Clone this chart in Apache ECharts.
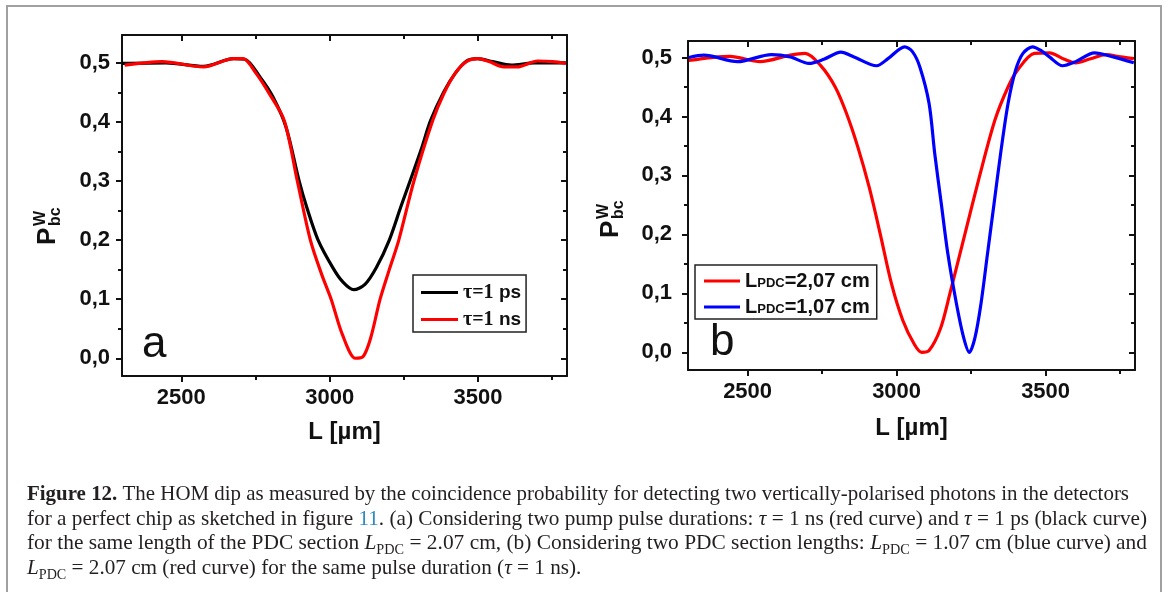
<!DOCTYPE html>
<html><head><meta charset="utf-8">
<script src="https://cdn.jsdelivr.net/npm/echarts@6/dist/echarts.min.js"></script>
<style>html,body{margin:0;padding:0;background:#fff}#c{width:1168px;height:592px}</style>
</head><body><div id="c"></div>
<script>
// ---------- data ----------
const xMajor = [2500, 3000, 3500];
const xMinor = [2750, 3250, 3750];
const yMajor = [0, 0.1, 0.2, 0.3, 0.4, 0.5];
const yMinor = [0.05, 0.15, 0.25, 0.35, 0.45];

// panel a, tau = 1 ps (black)
const aBlackL = [2300,2448,2575,2676,2714,2765,2809,2853,2897,2923,2961,3011,3043,3081,3119,3157,3201,3239,3271,3309,3340,3385,3423,3461,3499,3549,3612,3689,3796];
const aBlackP = [0.499,0.500,0.494,0.507,0.506,0.476,0.442,0.391,0.300,0.255,0.200,0.153,0.130,0.116,0.125,0.153,0.200,0.255,0.300,0.354,0.402,0.451,0.482,0.503,0.507,0.502,0.496,0.500,0.500];
// panel a, tau = 1 ns (red)
const aRedL = [2309,2435,2575,2676,2708,2752,2796,2847,2891,2935,2973,3005,3043,3087,3113,3138,3170,3201,3233,3284,3347,3385,3423,3461,3499,3537,3587,3632,3701,3752,3796];
const aRedP = [0.496,0.502,0.493,0.507,0.507,0.482,0.448,0.402,0.300,0.200,0.142,0.100,0.040,0.000,0.003,0.034,0.100,0.150,0.200,0.300,0.402,0.448,0.482,0.502,0.507,0.502,0.493,0.493,0.503,0.502,0.499];
// panel b, L_PDC = 2.07 cm (red)
const bRedL = [2303,2441,2542,2643,2693,2744,2794,2832,2870,2908,2945,2983,3021,3059,3084,3109,3147,3179,3229,3279,3330,3374,3405,3462,3513,3563,3601,3651,3702,3752,3796];
const bRedP = [0.495,0.502,0.493,0.504,0.507,0.487,0.450,0.405,0.348,0.280,0.201,0.116,0.054,0.014,0.000,0.003,0.040,0.100,0.200,0.300,0.394,0.450,0.478,0.507,0.508,0.497,0.491,0.498,0.505,0.501,0.498];
// panel b, L_PDC = 1.07 cm (blue)
const bBlueL = [2303,2353,2466,2580,2643,2706,2756,2813,2857,2933,2971,3027,3053,3078,3109,3128,3150,3172,3201,3225,3244,3263,3283,3305,3327,3349,3374,3399,3424,3456,3487,3513,3557,3601,3664,3727,3796];
const bBlueP = [0.500,0.504,0.493,0.505,0.501,0.490,0.497,0.509,0.501,0.486,0.498,0.518,0.510,0.484,0.422,0.337,0.252,0.167,0.082,0.025,0.000,0.025,0.082,0.167,0.252,0.337,0.422,0.478,0.507,0.518,0.511,0.501,0.486,0.493,0.508,0.501,0.491];

// caption text
const capLine1 = [{t:'Figure 12.', b:1}, {t:' The HOM dip as measured by the coincidence probability for detecting two vertically-polarised photons in the detectors'}];
const capLine2 = [{t:'for a perfect chip as sketched in figure '}, {t:'11', c:'#2b8bc6'}, {t:'. (a) Considering two pump pulse durations: '}, {t:'\u03c4', i:1}, {t:' = 1 ns (red curve) and '}, {t:'\u03c4', i:1}, {t:' = 1 ps (black curve)'}];
const capLine3 = [{t:'for the same length of the PDC section '}, {t:'L', i:1}, {t:'PDC', s:1}, {t:' = 2.07 cm, (b) Considering two PDC section lengths: '}, {t:'L', i:1}, {t:'PDC', s:1}, {t:' = 1.07 cm (blue curve) and'}];
const capLine4 = [{t:'L', i:1}, {t:'PDC', s:1}, {t:' = 2.07 cm (red curve) for the same pulse duration ('}, {t:'\u03c4', i:1}, {t:' = 1 ns).'}];

// ---------- helpers ----------
const zip = (a, b) => a.map((v, k) => [v, b[k]]);
const INK = '#111';
const SANS = 'Liberation Sans';
const SERIF = 'Liberation Serif';
const fmtY = v => v.toFixed(1).replace('.', ',');
const fmtX = v => String(v);
const LAB = 22;

function xAxes(g, nameGap) {
  const base = {gridIndex: g, type: 'value', min: 2300, max: 3800, splitLine: {show: false}};
  const line = {show: true, onZero: false, lineStyle: {color: INK, width: 2}};
  return [
    Object.assign({}, base, {position: 'bottom', axisLine: line,
      axisTick: {show: true, customValues: xMajor, length: 6, lineStyle: {color: INK, width: 2}},
      axisLabel: {show: true, customValues: xMajor, formatter: fmtX, margin: 11, fontFamily: SANS, fontWeight: 'bold', fontSize: LAB, color: INK},
      name: 'L [\u00b5m]', nameLocation: 'middle', nameGap: nameGap,
      nameTextStyle: {fontFamily: SANS, fontWeight: 'bold', fontSize: 24, color: INK}}),
    Object.assign({}, base, {position: 'bottom', axisLine: {show: false, onZero: false},
      axisTick: {show: true, customValues: xMinor, length: 4, lineStyle: {color: INK, width: 2}},
      axisLabel: {show: false}}),
    Object.assign({}, base, {position: 'top', axisLine: line,
      axisTick: {show: true, inside: true, customValues: xMajor, length: 6, lineStyle: {color: INK, width: 2}},
      axisLabel: {show: false}}),
    Object.assign({}, base, {position: 'top', axisLine: {show: false, onZero: false},
      axisTick: {show: true, inside: true, customValues: xMinor, length: 4, lineStyle: {color: INK, width: 2}},
      axisLabel: {show: false}})
  ];
}
function yAxes(g, min, max, margin) {
  const base = {gridIndex: g, type: 'value', min: min, max: max, splitLine: {show: false}};
  const line = {show: true, onZero: false, lineStyle: {color: INK, width: 2}};
  return [
    Object.assign({}, base, {position: 'left', axisLine: line,
      axisTick: {show: true, customValues: yMajor, length: 6, lineStyle: {color: INK, width: 2}},
      axisLabel: {show: true, customValues: yMajor, margin: margin, formatter: fmtY, fontFamily: SANS, fontWeight: 'bold', fontSize: LAB, color: INK}}),
    Object.assign({}, base, {position: 'left', axisLine: {show: false, onZero: false},
      axisTick: {show: true, customValues: yMinor, length: 4, lineStyle: {color: INK, width: 2}},
      axisLabel: {show: false}}),
    Object.assign({}, base, {position: 'right', axisLine: line,
      axisTick: {show: true, inside: true, customValues: yMajor, length: 6, lineStyle: {color: INK, width: 2}},
      axisLabel: {show: false}}),
    Object.assign({}, base, {position: 'right', axisLine: {show: false, onZero: false},
      axisTick: {show: true, inside: true, customValues: yMinor, length: 4, lineStyle: {color: INK, width: 2}},
      axisLabel: {show: false}})
  ];
}
function lineSeries(name, xi, yi, data, color) {
  return {name: name, type: 'line', xAxisIndex: xi, yAxisIndex: yi, data: data,
    symbol: 'none', showSymbol: false, smooth: 0.3, clip: true,
    lineStyle: {color: color, width: 3.2}, itemStyle: {color: color}};
}

// caption built from measured text pieces
const CAP = 21, CAPS = 14;
const mctx = document.createElement('canvas').getContext('2d');
function segFont(s) { return (s.i ? 'italic ' : '') + (s.b ? 'bold ' : '') + (s.s ? CAPS : CAP) + 'px "' + SERIF + '"'; }
function captionLine(segs, x0, baseline, target, fixedScale) {
  const widths = segs.map(s => { mctx.font = segFont(s); return mctx.measureText(s.t).width; });
  const total = widths.reduce((a, b) => a + b, 0);
  const k = fixedScale || (target / total);
  let cx = x0;
  const els = segs.map((s, n) => {
    const fs = s.s ? CAPS : CAP;
    const el = {type: 'text', x: cx, y: baseline + (s.s ? 4 : 0) - 0.3375 * fs, scaleX: k,
      style: {text: s.t, fontFamily: SERIF, fontSize: fs, fontStyle: s.i ? 'italic' : 'normal',
        fontWeight: s.b ? 'bold' : 'normal', fill: s.c || '#231f20', align: 'left', verticalAlign: 'middle'}};
    cx += widths[n] * k;
    return el;
  });
  return {els: els, k: k};
}
const c1 = captionLine(capLine1, 27, 502, 1102);
const c2 = captionLine(capLine2, 27, 527, 1120);
const c3 = captionLine(capLine3, 27, 551, 1120);
const c4 = captionLine(capLine4, 27, 576, 0, (c1.k + c2.k + c3.k) / 3);

function yTitle(xBase, yStart) {
  const st = (t, fs) => ({text: t, fontFamily: SANS, fontWeight: 'bold', fontSize: fs, fill: INK, align: 'left', verticalAlign: 'middle'});
  return [
    {type: 'text', x: xBase - 0.3465 * 26, y: yStart, rotation: Math.PI / 2, style: st('P', 26)},
    {type: 'text', x: xBase - 11 - 0.3465 * 16, y: yStart - 19, rotation: Math.PI / 2, style: st('W', 16)},
    {type: 'text', x: xBase + 4 - 0.3465 * 16, y: yStart - 19, rotation: Math.PI / 2, style: st('bc', 16)}
  ];
}

const option = {
  animation: false,
  backgroundColor: '#fff',
  grid: [
    {left: 122, top: 35, width: 445, height: 341},
    {left: 688, top: 41, width: 447, height: 329}
  ],
  xAxis: xAxes(0, 44).concat(xAxes(1, 46)),
  yAxis: yAxes(0, -0.03, 0.547, 12).concat(yAxes(1, -0.03, 0.528, 16)),
  legend: [
    {orient: 'vertical', left: 413, top: 275, data: ['a_ps', 'a_ns'], icon: 'rect', itemWidth: 37, itemHeight: 3,
      itemGap: 6, padding: [7, 5, 2, 8], borderColor: '#222', borderWidth: 1.5, backgroundColor: '#fff',
      formatter: n => n === 'a_ps' ? '{t|\u03c4=1} ps' : '{t|\u03c4=1} ns',
      textStyle: {fontFamily: SANS, fontWeight: 'bold', fontSize: 19, lineHeight: 21, color: INK,
        rich: {t: {fontFamily: SERIF, fontWeight: 'bold', fontSize: 20, lineHeight: 21, color: INK}}}},
    {orient: 'vertical', left: 695, top: 265, data: ['b_207', 'b_107'], icon: 'rect', itemWidth: 36, itemHeight: 3,
      itemGap: 6, padding: [6, 7, 2, 9], borderColor: '#222', borderWidth: 1.5, backgroundColor: '#fff',
      formatter: n => n === 'b_207' ? 'L{s|PDC}=2,07 cm' : 'L{s|PDC}=1,07 cm',
      textStyle: {fontFamily: SANS, fontWeight: 'bold', fontSize: 20, lineHeight: 19, color: INK,
        rich: {s: {fontFamily: SANS, fontWeight: 'bold', fontSize: 13, lineHeight: 19, color: INK, padding: [4, 0, 0, 0]}}}}
  ],
  series: [
    lineSeries('a_ps', 0, 0, zip(aBlackL, aBlackP), '#000000'),
    lineSeries('a_ns', 0, 0, zip(aRedL, aRedP), '#ff0000'),
    lineSeries('b_207', 4, 4, zip(bRedL, bRedP), '#ff0000'),
    lineSeries('b_107', 4, 4, zip(bBlueL, bBlueP), '#0000ff')
  ],
  graphic: [
    {type: 'rect', shape: {x: 7, y: 6, width: 1154, height: 600}, style: {fill: 'none', stroke: '#a0a0a0', lineWidth: 2}, silent: true},
    {type: 'text', x: 142, y: 360 - 0.3465 * 44, style: {text: 'a', fontFamily: SANS, fontSize: 44, fill: INK, align: 'left', verticalAlign: 'middle'}},
    {type: 'text', x: 710, y: 358 - 0.3465 * 44, style: {text: 'b', fontFamily: SANS, fontSize: 44, fill: INK, align: 'left', verticalAlign: 'middle'}}
  ].concat(yTitle(57, 245), yTitle(620, 238), c1.els, c2.els, c3.els, c4.els)
};
const chart = echarts.init(document.getElementById('c'), null, {renderer: 'canvas'});
chart.setOption(option);
</script></body></html>
